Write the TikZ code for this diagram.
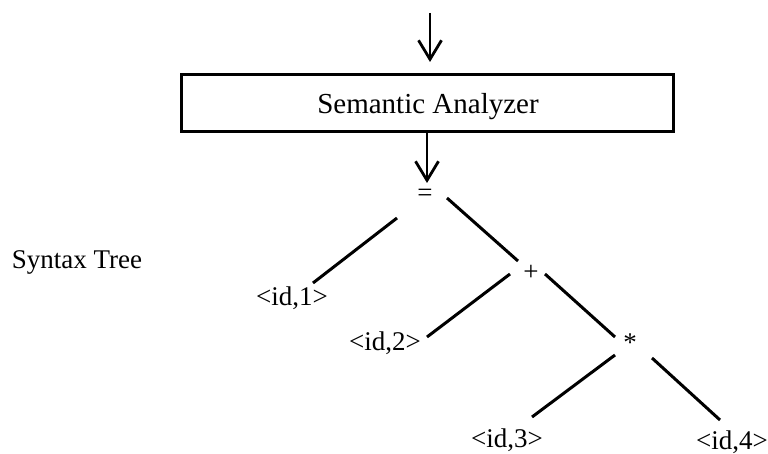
\documentclass[tikz,border=0pt]{standalone}
\usepackage{fontspec}
\setmainfont{Liberation Serif}
\usetikzlibrary{arrows.meta}
\begin{document}
\begin{tikzpicture}[x=1pt,y=-1pt,
  lbl/.style={inner sep=0pt,font=\fontsize{27}{31}\selectfont},
  phase/.style={draw,line width=3pt,minimum width=492pt,minimum height=57pt,inner sep=0pt},
  edge/.style={line width=3pt},
  flow/.style={line width=2.8pt,-{Straight Barb[length=19pt,width=23pt,line width=2.8pt]}}]
\useasboundingbox (0,0) rectangle (768,454);

% compiler phase box with its input and output arrows
\coordinate (in) at (430,13);
\coordinate (intip) at (430,62);
\node[phase] (sem) at (427,103.5) {};
\node[lbl,font=\fontsize{29}{33}\selectfont] (semtxt) at (428,107) {Semantic Analyzer};
\coordinate (semout) at (427,133);
\coordinate (outtip) at (427,183);
\node[lbl] (eq) at (425,195) {=};
\draw[flow] (in) -- (intip);
\draw[flow] (semout) -- (outtip);

% caption
\node[lbl] (cap) at (77,262) {Syntax Tree};

% tree nodes
\node[lbl] (id1) at (292,298) {<id,1>};
\node[lbl] (plus) at (531,273) {+};
\node[lbl] (id2) at (385,343) {<id,2>};
\node[lbl] (star) at (630,343) {*};
\node[lbl] (id3) at (507,440) {<id,3>};
\node[lbl] (id4) at (732,442) {<id,4>};

% tree edges
\draw[edge] ([shift={(-28,23)}]eq.center) -- ([shift={(21,-15)}]id1.center);
\draw[edge] ([shift={(22,3)}]eq.center) -- ([shift={(-13,-12)}]plus.center);
\draw[edge] ([shift={(-21,1)}]plus.center) -- ([shift={(42,-6)}]id2.center);
\draw[edge] ([shift={(14,1)}]plus.center) -- ([shift={(-15,-6)}]star.center);
\draw[edge] ([shift={(-15,12)}]star.center) -- ([shift={(25,-23)}]id3.center);
\draw[edge] ([shift={(22,15)}]star.center) -- ([shift={(-12,-22)}]id4.center);
\end{tikzpicture}
\end{document}
